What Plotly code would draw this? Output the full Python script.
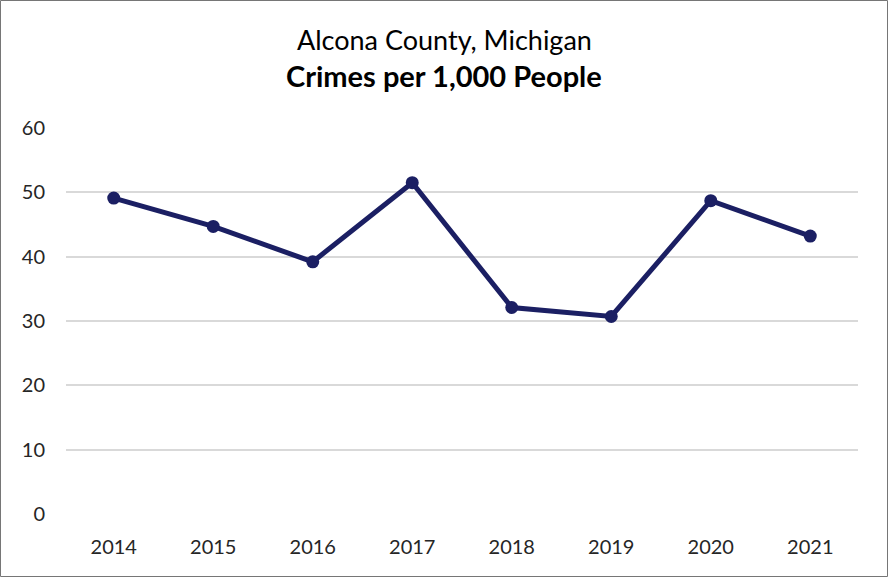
import plotly.graph_objects as go

years = ['2014', '2015', '2016', '2017', '2018', '2019', '2020', '2021']
crimes_per_1000 = [49.1, 44.7, 39.2, 51.5, 32.1, 30.7, 48.7, 43.2]
y_ticks = [0, 10, 20, 30, 40, 50, 60]

line_color = '#1B1F63'
grid_color = '#D9D9D9'
text_color = '#262626'
font_family = 'Lato'

W, H = 888, 577
margin = dict(l=66, r=30, t=128, b=63)
pw = W - margin['l'] - margin['r']
ph = H - margin['t'] - margin['b']

fig = go.Figure()
fig.add_trace(go.Scatter(
    x=years, y=crimes_per_1000, mode='lines+markers',
    line=dict(color=line_color, width=5),
    marker=dict(color=line_color, size=13),
    showlegend=False, cliponaxis=False))

fig.update_layout(
    width=W, height=H, margin=margin,
    plot_bgcolor='white', paper_bgcolor='white',
    font=dict(family=font_family, color=text_color, size=20),
)

fig.update_xaxes(
    type='category', showgrid=False, showline=False, zeroline=False,
    ticks='', ticklabelstandoff=19, tickfont=dict(size=20, color=text_color))
fig.update_yaxes(
    range=[0, 60], tickvals=y_ticks, showgrid=True, gridcolor=grid_color,
    gridwidth=1.5, zeroline=False, showline=False, ticks='',
    ticklabelstandoff=20, tickfont=dict(size=20, color=text_color))

# title lines
cx = (W / 2 - margin['l']) / pw
fig.add_annotation(text='Alcona County, Michigan', xref='paper', yref='paper',
                   x=cx, y=1 + (128 - 39) / ph, showarrow=False,
                   xanchor='center', yanchor='middle',
                   font=dict(size=27, color='black', family=font_family))
fig.add_annotation(text='<b>Crimes per 1,000 People</b>', xref='paper', yref='paper',
                   x=cx, y=1 + (128 - 76) / ph, showarrow=False,
                   xanchor='center', yanchor='middle',
                   font=dict(size=29, color='black', family=font_family))

# outer border
fig.add_shape(type='rect', xref='paper', yref='paper',
              x0=-(margin['l'] - 0.5) / pw, x1=1 + (margin['r'] - 0.5) / pw,
              y0=-(margin['b'] - 0.5) / ph, y1=1 + (margin['t'] - 0.5) / ph,
              line=dict(color='#767676', width=1))

fig.write_html("out.html", config={'displayModeBar': False},
               post_script="document.body.style.margin='0';")
